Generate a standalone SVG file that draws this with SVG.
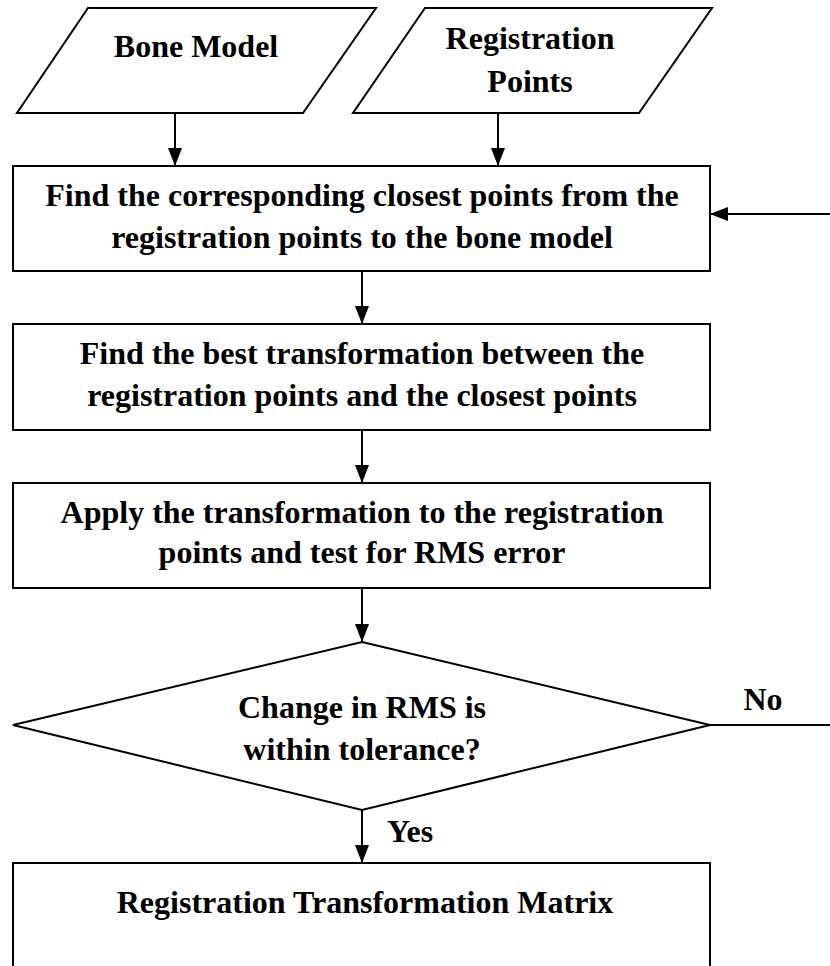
<svg xmlns="http://www.w3.org/2000/svg" width="830" height="966" viewBox="0 0 830 966">
<style>
.shape{fill:#fff;stroke:#000;stroke-width:2}
.conn{fill:none;stroke:#000;stroke-width:2}
text{font-family:"Liberation Serif","Times New Roman",serif;font-weight:bold;font-size:32px;fill:#000;text-anchor:middle}
</style>
<defs>
<marker id="arr" markerUnits="userSpaceOnUse" markerWidth="18" markerHeight="14" viewBox="0 0 18 14" refX="18" refY="7" orient="auto">
<path d="M0,0 L18,7 L0,14 z" fill="#000"/>
</marker>
</defs>
<g id="bone-model">
<polygon class="shape" points="88,8 376,8 303,113 17,113"/>
<text x="196" y="57">Bone Model</text>
</g>
<g id="registration-points">
<polygon class="shape" points="425,8 712,8 639,113 353,113"/>
<text x="530" y="49">Registration</text>
<text x="530" y="92">Points</text>
</g>
<g id="find-closest">
<rect class="shape" x="13" y="166" width="697" height="105"/>
<text x="362" y="206">Find the corresponding closest points from the</text>
<text x="362" y="248">registration points to the bone model</text>
</g>
<g id="best-transform">
<rect class="shape" x="13" y="324" width="697" height="106"/>
<text x="362" y="364">Find the best transformation between the</text>
<text x="362" y="406">registration points and the closest points</text>
</g>
<g id="apply-transform">
<rect class="shape" x="13" y="483" width="697" height="105"/>
<text x="362" y="523">Apply the transformation to the registration</text>
<text x="362" y="563">points and test for RMS error</text>
</g>
<g id="decision">
<polygon class="shape" points="362,642 710,725 362,810 13,725"/>
<text x="362" y="718">Change in RMS is</text>
<text x="362" y="760">within tolerance?</text>
</g>
<g id="result">
<rect class="shape" x="13" y="863" width="697" height="120"/>
<text x="365" y="913">Registration Transformation Matrix</text>
</g>
<g id="connectors">
<line class="conn" x1="175" y1="113" x2="175" y2="166" marker-end="url(#arr)"/>
<line class="conn" x1="498" y1="113" x2="498" y2="166" marker-end="url(#arr)"/>
<line class="conn" x1="362" y1="271" x2="362" y2="324" marker-end="url(#arr)"/>
<line class="conn" x1="362" y1="430" x2="362" y2="483" marker-end="url(#arr)"/>
<line class="conn" x1="362" y1="588" x2="362" y2="642" marker-end="url(#arr)"/>
<line class="conn" x1="362" y1="810" x2="362" y2="863" marker-end="url(#arr)"/>
<path class="conn" d="M710,725 L845,725 L845,214 L710,214" marker-end="url(#arr)"/>
<text x="763" y="710">No</text>
<text x="410" y="842">Yes</text>
</g>
</svg>
